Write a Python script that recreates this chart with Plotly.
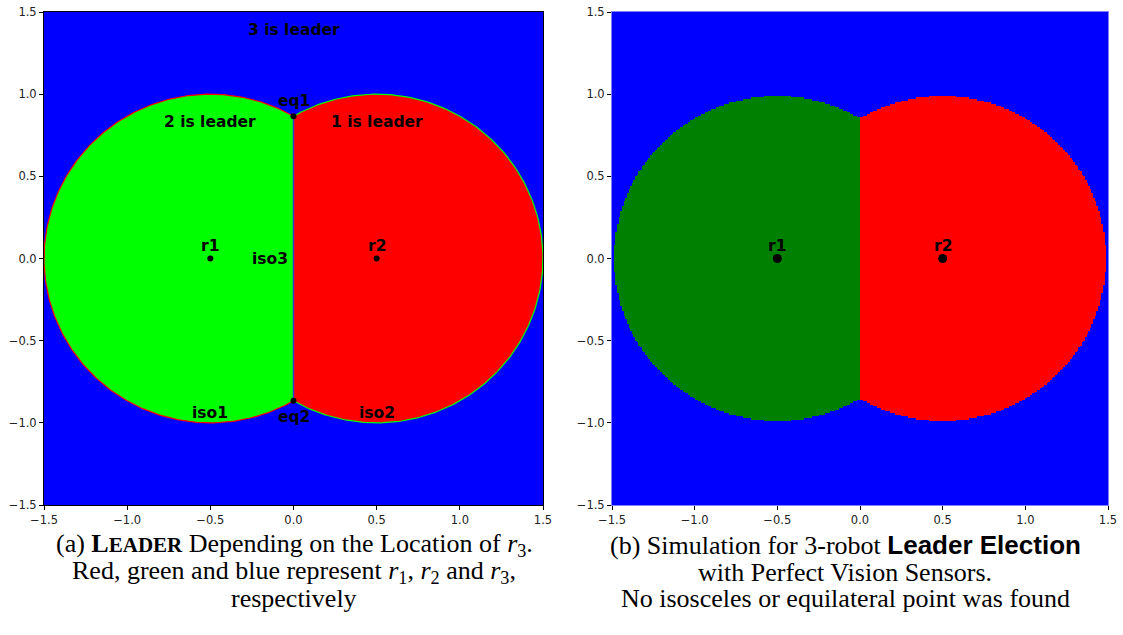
import numpy as np
import plotly.graph_objects as go

# ---- data ----
robot_names = ["r1", "r2"]
robot_x = [-0.5, 0.5]
robot_y = [0.0, 0.0]
radius_theory = 1.0
radius_sim = 0.988
grid_n = 300
special_names = ["eq1", "eq2"]
special_x = [0.0, 0.0]
special_y = [0.866, -0.866]
region_labels = ["3 is leader", "2 is leader", "1 is leader", "iso1", "iso2", "iso3"]
region_label_x = [0.0, -0.5, 0.5, -0.5, 0.5, -0.02]
region_label_y = [1.39, 0.83, 0.83, -0.94, -0.94, 0.0]
tick_vals = [-1.5, -1.0, -0.5, 0.0, 0.5, 1.0, 1.5]
tick_text = ["\u22121.5", "\u22121.0", "\u22120.5", "0.0", "0.5", "1.0", "1.5"]

BLUE, GREEN, DGREEN, RED = "#0000ff", "#00ff00", "#008000", "#ff0000"
LBL_FONT = dict(family="DejaVu Sans", size=15.5, color="black")

fig = go.Figure()

# ---- left panel: theoretical regions ----
cx1, cx2 = robot_x
R = radius_theory
ang_c = np.degrees(np.arccos((0 - cx1) / R))  # 60 deg
t1 = np.radians(np.linspace(ang_c, 360 - ang_c, 300))
gx = cx1 + R * np.cos(t1)
gy = R * np.sin(t1)
t2 = np.radians(np.linspace(-(180 - ang_c), 180 - ang_c, 300))
rx = cx2 + R * np.cos(t2)
ry = R * np.sin(t2)

fig.add_trace(go.Scatter(x=list(gx) + [gx[0]], y=list(gy) + [gy[0]], fill="toself",
                         fillcolor=GREEN, line=dict(width=0), mode="lines",
                         xaxis="x", yaxis="y", hoverinfo="skip"))
fig.add_trace(go.Scatter(x=list(rx) + [rx[0]], y=list(ry) + [ry[0]], fill="toself",
                         fillcolor=RED, line=dict(width=0), mode="lines",
                         xaxis="x", yaxis="y", hoverinfo="skip"))
fig.add_trace(go.Scatter(x=gx, y=gy, mode="lines", line=dict(color=RED, width=1.2),
                         xaxis="x", yaxis="y", hoverinfo="skip"))
fig.add_trace(go.Scatter(x=rx, y=ry, mode="lines", line=dict(color=GREEN, width=1.2),
                         xaxis="x", yaxis="y", hoverinfo="skip"))
fig.add_trace(go.Scatter(x=special_x, y=special_y, mode="lines",
                         line=dict(color="#3a3ad0", width=1.5), xaxis="x", yaxis="y",
                         hoverinfo="skip"))
fig.add_trace(go.Scatter(x=special_x + robot_x, y=special_y + robot_y, mode="markers",
                         marker=dict(color="black", size=6), xaxis="x", yaxis="y"))

# ---- right panel: simulation heatmap ----
edges = np.linspace(-1.5, 1.5, grid_n + 1)
cc = (edges[:-1] + edges[1:]) / 2
XX, YY = np.meshgrid(cc, cc)
d1 = np.hypot(XX - robot_x[0], YY - robot_y[0])
d2 = np.hypot(XX - robot_x[1], YY - robot_y[1])
inside = np.minimum(d1, d2) <= radius_sim
z = np.where(inside, np.where(d1 < d2, 1, 2), 0)
fig.add_trace(go.Heatmap(x=cc, y=cc, z=z, zmin=0, zmax=2, showscale=False,
                         colorscale=[[0, BLUE], [0.333, BLUE], [0.333, DGREEN],
                                     [0.666, DGREEN], [0.666, RED], [1, RED]],
                         xaxis="x2", yaxis="y2", hoverinfo="skip"))
fig.add_trace(go.Scatter(x=robot_x, y=robot_y, mode="markers",
                         marker=dict(color="black", size=9), xaxis="x2", yaxis="y2"))

ann = []
for t, x, y in zip(region_labels, region_label_x, region_label_y):
    ann.append(dict(text="<b>%s</b>" % t, x=x, y=y, xref="x", yref="y",
                    showarrow=False, font=LBL_FONT,
                    xanchor="right" if t == "iso3" else "center", yanchor="middle"))
ann.append(dict(text="<b>eq1</b>", x=0, y=0.96, xref="x", yref="y", showarrow=False,
                font=LBL_FONT, yanchor="middle"))
ann.append(dict(text="<b>eq2</b>", x=0, y=-0.965, xref="x", yref="y", showarrow=False,
                font=LBL_FONT, yanchor="middle"))
for ax in ["", "2"]:
    for n, x, y in zip(robot_names, robot_x, robot_y):
        ann.append(dict(text="<b>%s</b>" % n, x=x, y=y + 0.075, xref="x" + ax, yref="y" + ax,
                        showarrow=False, font=LBL_FONT, yanchor="middle"))

# screen-pixel layout (body margin removed by post_script)
W, H = 1123, 635
ML = 44
MT = 12
MR = W - 1108
MB = H - 505
PW = W - ML - MR
PH = H - MT - MB


def px_to_paper_x(px):
    return (px - ML) / PW


def px_to_paper_y(py):
    return (H - MB - py) / PH


CAP = dict(family="Liberation Serif", size=26, color="black")
cap_a = ["(a) <b>L<span style='font-size:21px'>EADER</span></b> Depending on the Location of <i>r</i><sub>3</sub>.",
         "Red, green and blue represent <i>r</i><sub>1</sub>, <i>r</i><sub>2</sub> and <i>r</i><sub>3</sub>,",
         "respectively"]
cap_b = ["(b) Simulation for 3-robot <span style='font-family:Liberation Sans'><b>Leader Election</b></span>",
         "with Perfect Vision Sensors.",
         "No isosceles or equilateral point was found"]
line_y = [545, 572, 598]
for lines, xc in [(cap_a, 294), (cap_b, 845)]:
    for t, py in zip(lines, line_y):
        ann.append(dict(text=t, x=px_to_paper_x(xc), y=px_to_paper_y(py), xref="paper", yref="paper",
                        showarrow=False, font=CAP, xanchor="center", yanchor="middle"))

axis_common = dict(range=[-1.5, 1.5], tickvals=tick_vals, ticktext=tick_text,
                   showgrid=False, zeroline=False, showline=True, mirror=True,
                   linewidth=1, ticks="outside", ticklen=4,
                   tickcolor="black", automargin=False, ticklabeloverflow="allow",
                   tickfont=dict(family="DejaVu Sans", size=11.5, color="#222"))
fig.update_layout(
    width=W, height=H, margin=dict(l=ML, r=MR, t=MT, b=MB),
    paper_bgcolor="white", plot_bgcolor=BLUE, showlegend=False,
    xaxis=dict(domain=[0, (543 - 44) / PW], anchor="y", linecolor="black", **axis_common),
    yaxis=dict(domain=[0, 1], anchor="x", linecolor="black", **axis_common),
    xaxis2=dict(domain=[(612 - 44) / PW, 1], anchor="y2", linecolor="#8080ff", **axis_common),
    yaxis2=dict(domain=[0, 1], anchor="x2", linecolor="#8080ff", **axis_common),
    annotations=ann,
)
fig.write_html("out.html", config={"displayModeBar": False},
               post_script="document.body.style.margin='0';document.body.style.padding='0';")
